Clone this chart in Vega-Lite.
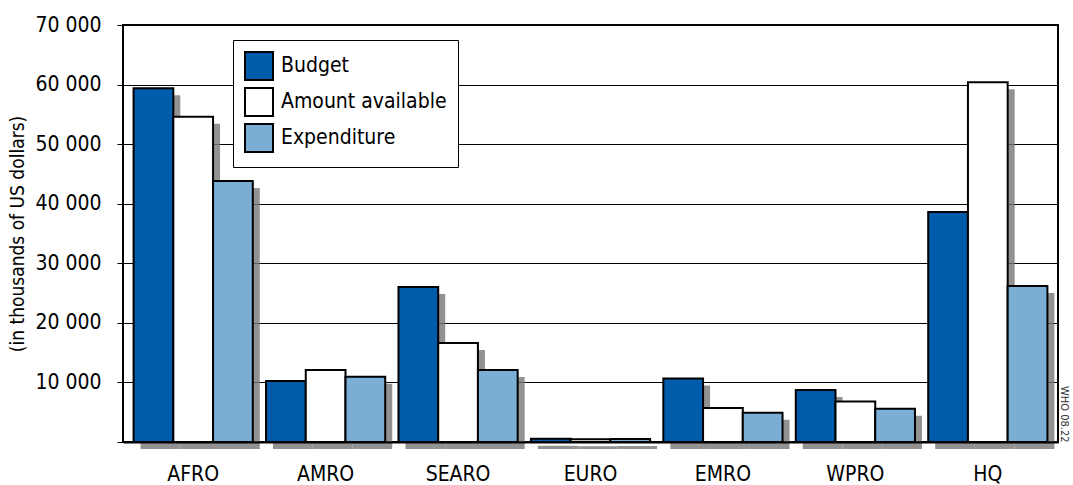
{
  "$schema": "https://vega.github.io/schema/vega-lite/v6.json",
  "autosize": {"type": "none"},
  "width": 935,
  "height": 417,
  "padding": {"left": 123, "top": 25, "right": 15, "bottom": 43},
  "background": "white",
  "config": {
    "font": "DejaVu Sans Condensed, sans-serif",
    "view": {"stroke": "black", "strokeWidth": 2, "fill": "white"},
    "axis": {"labelFont": "DejaVu Sans Condensed, sans-serif", "titleFont": "DejaVu Sans Condensed, sans-serif"},
    "legend": {"labelFont": "DejaVu Sans Condensed, sans-serif"}
  },
  "resolve": {"scale": {"xOffset": "independent"}, "axis": {"y": "independent"}},
  "data": {
    "values": [
      {"region": "AFRO", "series": "Budget", "value": 59400},
      {"region": "AFRO", "series": "Amount available", "value": 54600},
      {"region": "AFRO", "series": "Expenditure", "value": 43800},
      {"region": "AMRO", "series": "Budget", "value": 10250},
      {"region": "AMRO", "series": "Amount available", "value": 12100},
      {"region": "AMRO", "series": "Expenditure", "value": 10950},
      {"region": "SEARO", "series": "Budget", "value": 26000},
      {"region": "SEARO", "series": "Amount available", "value": 16600},
      {"region": "SEARO", "series": "Expenditure", "value": 12100},
      {"region": "EURO", "series": "Budget", "value": 550},
      {"region": "EURO", "series": "Amount available", "value": 450},
      {"region": "EURO", "series": "Expenditure", "value": 500},
      {"region": "EMRO", "series": "Budget", "value": 10650},
      {"region": "EMRO", "series": "Amount available", "value": 5700},
      {"region": "EMRO", "series": "Expenditure", "value": 4900},
      {"region": "WPRO", "series": "Budget", "value": 8750},
      {"region": "WPRO", "series": "Amount available", "value": 6800},
      {"region": "WPRO", "series": "Expenditure", "value": 5600},
      {"region": "HQ", "series": "Budget", "value": 38600},
      {"region": "HQ", "series": "Amount available", "value": 60400},
      {"region": "HQ", "series": "Expenditure", "value": 26200}
    ]
  },
  "encoding": {
    "x": {
      "field": "region", "type": "nominal",
      "sort": ["AFRO", "AMRO", "SEARO", "EURO", "EMRO", "WPRO", "HQ"],
      "scale": {"paddingInner": 0.1, "paddingOuter": 0.08},
      "axis": {"title": null, "labelAngle": 0, "ticks": false, "domain": true, "domainColor": "black", "domainWidth": 2, "labelFontSize": 21, "labelColor": "black", "labelPadding": 21, "zindex": 2}
    }
  },
  "layer": [
    {
      "mark": {"type": "bar", "fill": "#777777", "opacity": 0.8, "yOffset": 7},
      "encoding": {
        "xOffset": {
          "field": "series", "type": "nominal",
          "sort": ["Budget", "Amount available", "Expenditure"],
          "scale": {"range": [7, 126.2], "paddingInner": 0, "paddingOuter": 0}
        },
        "y": {
          "field": "value", "type": "quantitative",
          "scale": {"domain": [0, 70000], "nice": false},
          "axis": {
            "orient": "right", "title": "WHO 08.22", "titleAngle": 90, "titleAnchor": "start", "titleAlign": "right",
            "titleFontSize": 11, "titleFontWeight": "normal", "titleColor": "#333333", "titlePadding": 0,
            "labels": false, "ticks": false, "domain": false, "grid": false
          }
        }
      }
    },
    {
      "mark": {"type": "bar", "stroke": "black", "strokeWidth": 2},
      "encoding": {
        "xOffset": {
          "field": "series", "type": "nominal",
          "sort": ["Budget", "Amount available", "Expenditure"],
          "scale": {"paddingInner": 0, "paddingOuter": 0}
        },
        "y": {
          "field": "value", "type": "quantitative",
          "scale": {"domain": [0, 70000], "nice": false},
          "axis": {
            "title": "(in thousands of US dollars)",
            "titleFontSize": 19, "titleFontWeight": "normal", "titleColor": "black", "titlePadding": 7,
            "values": [0, 10000, 20000, 30000, 40000, 50000, 60000, 70000],
            "labelExpr": "datum.value == 0 ? '' : replace(format(datum.value, ','), ',', ' ')",
            "labelFontSize": 21, "labelColor": "black", "labelPadding": 16,
            "tickColor": "black", "tickSize": 6, "tickWidth": 1,
            "domain": false,
            "grid": true, "gridColor": "black", "gridWidth": 1, "gridOpacity": 1
          }
        },
        "fill": {
          "field": "series", "type": "nominal",
          "sort": ["Budget", "Amount available", "Expenditure"],
          "scale": {"domain": ["Budget", "Amount available", "Expenditure"], "range": ["#005BAA", "#FFFFFF", "#7BAED4"]},
          "legend": {
            "title": null, "orient": "none", "legendX": 110, "legendY": 15,
            "fillColor": "white", "strokeColor": "black",
            "padding": 11, "symbolType": "square", "symbolSize": 784,
            "symbolStrokeColor": "black", "symbolStrokeWidth": 2,
            "labelFontSize": 21, "labelColor": "black", "labelOffset": 7, "rowPadding": 0,
            "labelLimit": 300
          }
        }
      }
    }
  ]
}
